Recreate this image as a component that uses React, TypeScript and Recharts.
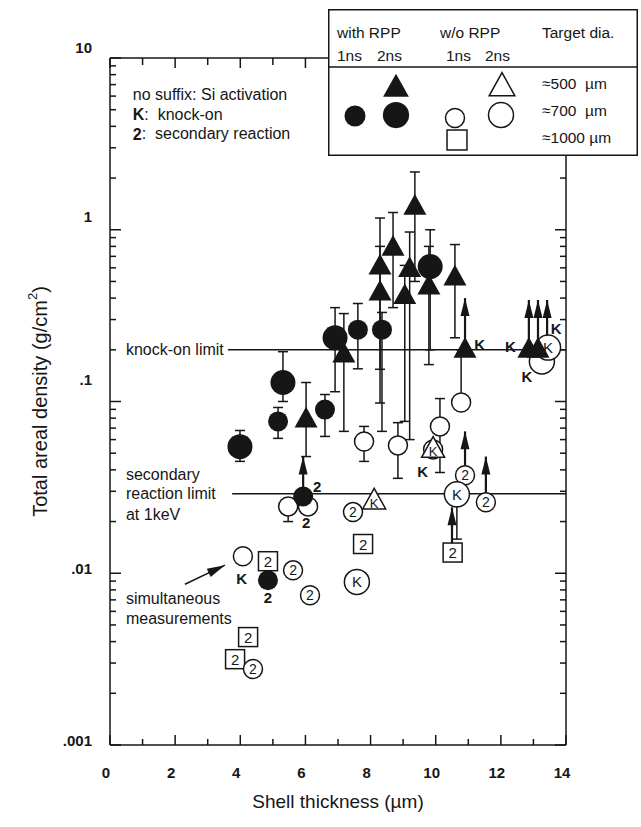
import React from 'react';
import { ComposedChart, Scatter, XAxis, YAxis, ErrorBar } from 'recharts';

const FONT = '"Liberation Sans", Arial, Helvetica, sans-serif';
const INK = '#161616';

// ---------- axes ----------
const xTickValues = [0, 1, 2, 3, 4, 5, 6, 7, 8, 9, 10, 11, 12, 13, 14];
const xTickLabels: Record<number, string> = { 0: '0', 2: '2', 4: '4', 6: '6', 8: '8', 10: '10', 12: '12', 14: '14' };
const yDecadeValues = [0.001, 0.01, 0.1, 1, 10];
const yDecadeLabels = ['.001', '.01', '.1', '1', '10'];
const yMinorSteps = [2, 3, 4, 5, 6, 7, 8, 9];
const yTickValues = [
  ...yDecadeValues,
  ...yDecadeValues.slice(0, 4).flatMap((d) => yMinorSteps.map((m) => Number((d * m).toPrecision(3)))),
].sort((a, b) => a - b);

// ---------- data (shell thickness um, areal density g/cm2) ----------
type P = { x: number; y: number; lo?: number; hi?: number; tag?: string };

// with RPP, 1 ns (small filled circle)
const withRpp1ns: P[] = [
  { x: 5.16, y: 0.0766, lo: 0.061, hi: 0.0923 },
  { x: 5.93, y: 0.028 },
  { x: 6.6, y: 0.0897, lo: 0.0626, hi: 0.1098 },
  { x: 7.61, y: 0.262, lo: 0.155, hi: 0.372 },
  { x: 8.35, y: 0.262, lo: 0.067, hi: 0.33 },
  { x: 4.85, y: 0.0091 },
];
// with RPP, 2 ns, 700 um (large filled circle)
const withRpp2nsCircle: P[] = [
  { x: 3.99, y: 0.0546, lo: 0.0448, hi: 0.0678 },
  { x: 5.31, y: 0.129, lo: 0.1, hi: 0.195 },
  { x: 6.91, y: 0.235, lo: 0.114, hi: 0.352 },
  { x: 9.83, y: 0.61, lo: 0.2, hi: 1.0 },
];
// with RPP, 2 ns, 500 um (filled triangle)
const withRpp2nsTri: P[] = [
  { x: 6.02, y: 0.0785, lo: 0.0478, hi: 0.129 },
  { x: 7.18, y: 0.1875, lo: 0.067, hi: 0.325 },
  { x: 8.29, y: 0.61, lo: 0.154, hi: 1.17 },
  { x: 8.29, y: 0.43, lo: 0.098, hi: 0.8 },
  { x: 8.69, y: 0.785, lo: 0.352, hi: 1.26 },
  { x: 9.36, y: 1.36, lo: 0.5, hi: 2.17 },
  { x: 9.2, y: 0.59, lo: 0.06, hi: 0.97 },
  { x: 9.05, y: 0.41, lo: 0.0766, hi: 0.62 },
  { x: 9.79, y: 0.467, lo: 0.164, hi: 0.8 },
  { x: 10.59, y: 0.526, lo: 0.235, hi: 0.82 },
  { x: 10.9, y: 0.2 },
  { x: 12.86, y: 0.2 },
  { x: 13.14, y: 0.2 },
];
// w/o RPP, 1 ns, 700 um (small open circle)
const woRpp1nsCircle: P[] = [
  { x: 7.8, y: 0.0585, lo: 0.0448, hi: 0.0716 },
  { x: 8.84, y: 0.0555, lo: 0.0357, hi: 0.0753 },
  { x: 10.13, y: 0.0716, lo: 0.0386, hi: 0.104 },
  { x: 10.78, y: 0.0986, lo: 0.0986, hi: 0.2 },
  { x: 5.47, y: 0.0245, lo: 0.02, hi: 0.0245 },
  { x: 6.08, y: 0.0245 },
  { x: 4.08, y: 0.01256 },
  { x: 9.92, y: 0.0526 },
  { x: 5.62, y: 0.0104, tag: '2' },
  { x: 6.14, y: 0.00745, tag: '2' },
  { x: 4.39, y: 0.00277, tag: '2' },
  { x: 7.46, y: 0.0227, tag: '2' },
  { x: 10.9, y: 0.0372, tag: '2' },
  { x: 11.54, y: 0.0259, tag: '2' },
];
// w/o RPP, 2 ns, 700 um (large open circle)
const woRpp2nsCircle: P[] = [
  { x: 10.65, y: 0.0288, lo: 0.0158, hi: 0.0288, tag: 'K' },
  { x: 7.58, y: 0.0089, tag: 'K' },
  { x: 13.26, y: 0.171 },
  { x: 13.45, y: 0.206, tag: 'K' },
];
// w/o RPP, 2 ns, 500 um (open triangle)
const woRpp2nsTri: P[] = [
  { x: 8.11, y: 0.0263, tag: 'K' },
  { x: 9.92, y: 0.0526, tag: 'K' },
];
// w/o RPP, 1 ns, 1000 um (open square)
const woRpp1nsSquare: P[] = [
  { x: 7.77, y: 0.0148, tag: '2' },
  { x: 10.52, y: 0.0132, tag: '2' },
  { x: 4.85, y: 0.01175, tag: '2' },
  { x: 4.24, y: 0.00425, tag: '2' },
  { x: 3.84, y: 0.00316, tag: '2' },
];
// lower limits (arrows)
const lowerLimits = [
  { x: 5.93, from: 0.028, to: 0.0478 },
  { x: 10.9, from: 0.2, to: 0.4 },
  { x: 12.86, from: 0.2, to: 0.39 },
  { x: 13.14, from: 0.2, to: 0.39 },
  { x: 13.42, from: 0.206, to: 0.39 },
  { x: 10.9, from: 0.0372, to: 0.067 },
  { x: 11.54, from: 0.0259, to: 0.0478 },
  { x: 10.5, from: 0.0132, to: 0.0242 },
];
// suffix labels next to markers
const suffixLabels = [
  { x: 6.36, y: 0.032, t: '2' },
  { x: 6.02, y: 0.0198, t: '2' },
  { x: 4.04, y: 0.00935, t: 'K' },
  { x: 4.85, y: 0.00724, t: '2' },
  { x: 11.35, y: 0.214, t: 'K' },
  { x: 12.29, y: 0.21, t: 'K' },
  { x: 12.8, y: 0.14, t: 'K' },
  { x: 13.7, y: 0.265, t: 'K' },
  { x: 9.6, y: 0.039, t: 'K' },
];
// limit lines
const knockOnLimit = [{ x: 3.62, y: 0.2 }, { x: 14, y: 0.2 }];
const secondaryLimit = [{ x: 3.75, y: 0.029 }, { x: 14, y: 0.029 }];
// annotations
const notes = [
  { x: 0.7, y: 6.1, b: '', t: 'no suffix: Si activation' },
  { x: 0.7, y: 4.72, b: 'K', t: ':  knock-on' },
  { x: 0.7, y: 3.61, b: '2', t: ':  secondary reaction' },
  { x: 0.49, y: 0.2, b: '', t: 'knock-on limit' },
  { x: 0.49, y: 0.0377, b: '', t: 'secondary' },
  { x: 0.49, y: 0.029, b: '', t: 'reaction limit' },
  { x: 0.49, y: 0.022, b: '', t: 'at 1keV' },
  { x: 0.49, y: 0.00716, b: '', t: 'simultaneous' },
  { x: 0.49, y: 0.00547, b: '', t: 'measurements' },
];
const simultaneousArrow = [
  { x: 2.3, y: 0.00863, head: false },
  { x: 3.53, y: 0.01114, head: true },
];

// ---------- helpers ----------
const withErr = (arr: P[]) =>
  arr.map((p) => ({ ...p, err: p.lo !== undefined && p.hi !== undefined ? [p.y - p.lo, p.hi - p.y] : [0, 0] }));
const arrowShafts = lowerLimits.map((a) => ({ x: a.x, y: a.from, err: [0, a.to - a.from] }));
const arrowHeads = lowerLimits.map((a) => ({ x: a.x, y: a.to }));

type Kind = 'fs' | 'fb' | 'ft' | 'os' | 'ob' | 'ot' | 'oq';

function triPoints(cx: number, cy: number, s: number) {
  const h = s * 0.9;
  return `${cx},${cy - h * 0.62} ${cx - s / 2},${cy + h * 0.38} ${cx + s / 2},${cy + h * 0.38}`;
}

function Marker({ kind, cx, cy, tag, scale = 1 }: { kind: Kind; cx: number; cy: number; tag?: string; scale?: number }) {
  if (cx == null || cy == null) return <g />;
  const txt = (fs: number, dy = 0) =>
    tag ? (
      <text x={cx} y={cy + dy} textAnchor="middle" dominantBaseline="central" fontFamily={FONT} fontSize={fs} fill={INK}>
        {tag}
      </text>
    ) : null;
  switch (kind) {
    case 'fs':
      return <circle cx={cx} cy={cy} r={10 * scale} fill={INK} />;
    case 'fb':
      return <circle cx={cx} cy={cy} r={12.5 * scale} fill={INK} />;
    case 'ft':
      return <polygon points={triPoints(cx, cy, 23 * scale)} fill={INK} />;
    case 'os':
      return (
        <g>
          <circle cx={cx} cy={cy} r={9.5 * scale} fill="#fff" stroke={INK} strokeWidth={1.5} />
          {txt(14)}
        </g>
      );
    case 'ob':
      return (
        <g>
          <circle cx={cx} cy={cy} r={12.5 * scale} fill="#fff" stroke={INK} strokeWidth={1.5} />
          {txt(15)}
        </g>
      );
    case 'ot':
      return (
        <g>
          <polygon points={triPoints(cx, cy, 23 * scale)} fill="#fff" stroke={INK} strokeWidth={1.5} />
          {txt(13, 2)}
        </g>
      );
    case 'oq': {
      const s = 19 * scale;
      return (
        <g>
          <rect x={cx - s / 2} y={cy - s / 2} width={s} height={s} fill="#fff" stroke={INK} strokeWidth={1.5} />
          {txt(15)}
        </g>
      );
    }
  }
  return <g />;
}

const shapeOf = (kind: Kind) => (p: any) => <Marker kind={kind} cx={p.cx} cy={p.cy} tag={p.payload?.tag} />;
const Nothing = () => <g />;

const BottomTick = (p: any) => {
  const v = p.payload.value;
  const major = v % 2 === 0;
  return (
    <g>
      <line x1={p.x} x2={p.x} y1={p.y} y2={p.y - (major ? 10 : 6)} stroke={INK} strokeWidth={1.5} />
      {major && (
        <text x={p.x - 4} y={p.y + 27} textAnchor="middle" dominantBaseline="central" fontFamily={FONT} fontSize={15} fontWeight="bold" fill={INK}>
          {xTickLabels[v]}
        </text>
      )}
    </g>
  );
};
const TopTick = (p: any) => {
  const v = p.payload.value;
  const major = v % 2 === 0;
  return <line x1={p.x} x2={p.x} y1={p.y} y2={p.y + (major ? 10 : 7)} stroke={INK} strokeWidth={1.5} />;
};
const decadeIndex = (v: number) => yDecadeValues.findIndex((d) => Math.abs(d - v) / d < 1e-6);
const yLabelShift = [-5, -5, -22, -13, -11];
const LeftTick = (p: any) => {
  const v = p.payload.value;
  const i = decadeIndex(v);
  const major = i >= 0;
  return (
    <g>
      <line x1={p.x} x2={p.x + (major ? 11 : 6)} y1={p.y} y2={p.y} stroke={INK} strokeWidth={1.5} />
      {major && (
        <text x={p.x - 18} y={p.y + yLabelShift[i]} textAnchor="end" dominantBaseline="central" fontFamily={FONT} fontSize={15} fontWeight="bold" fill={INK}>
          {yDecadeLabels[i]}
        </text>
      )}
    </g>
  );
};
const RightTick = (p: any) => {
  const v = p.payload.value;
  const major = decadeIndex(v) >= 0;
  return <line x1={p.x} x2={p.x - (major ? 11 : 6)} y1={p.y} y2={p.y} stroke={INK} strokeWidth={1.5} />;
};

const XTitle = (props: any) => {
  const vb = props.viewBox;
  return (
    <text x={vb.x + vb.width / 2} y={vb.y + 56} textAnchor="middle" dominantBaseline="central" fontFamily={FONT} fontSize={19} fill={INK}>
      Shell thickness (µm)
    </text>
  );
};
const YTitle = (props: any) => {
  const vb = props.viewBox;
  const cx = vb.x + 40;
  const cy = vb.y + vb.height / 2;
  return (
    <text x={cx} y={cy} transform={`rotate(-90 ${cx} ${cy})`} textAnchor="middle" dominantBaseline="central" fontFamily={FONT} fontSize={20} fill={INK}>
      Total areal density (g/cm<tspan dy={-8} fontSize={13}>2</tspan>
      <tspan dy={8}>)</tspan>
    </text>
  );
};

const NoteShape = (p: any) => (
  <text x={p.cx} y={p.cy} dominantBaseline="central" fontFamily={FONT} fontSize={16} fill={INK} style={{ whiteSpace: 'pre' }}>
    {p.payload.b ? <tspan fontWeight="bold">{p.payload.b}</tspan> : null}
    {p.payload.t}
  </text>
);
const SuffixShape = (p: any) => (
  <text x={p.cx} y={p.cy} textAnchor="middle" dominantBaseline="central" fontFamily={FONT} fontSize={15} fontWeight="bold" fill={INK}>
    {p.payload.t}
  </text>
);
const ArrowHead = (p: any) => (
  <polygon points={`${p.cx},${p.cy} ${p.cx - 4.5},${p.cy + 18} ${p.cx + 4.5},${p.cy + 18}`} fill={INK} />
);
const SlantHead = (p: any) =>
  p.payload.head ? (
    <polygon transform={`translate(${p.cx},${p.cy}) rotate(-25.4)`} points="0,0 -18,-4.5 -18,4.5" fill={INK} />
  ) : (
    <g />
  );

function Legend() {
  const t = (x: number, y: number, s: string) => (
    <text x={x} y={y} dominantBaseline="central" fontFamily={FONT} fontSize={15.5} fill={INK} style={{ whiteSpace: 'pre' }}>
      {s}
    </text>
  );
  return (
    <div style={{ position: 'absolute', left: 328, top: 9, width: 310, height: 147, background: '#fff' }}>
      <svg width={310} height={147}>
        <rect x={0.75} y={0.75} width={308.5} height={145.5} fill="#fff" stroke={INK} strokeWidth={1.5} />
        <line x1={0} x2={310} y1={58} y2={58} stroke={INK} strokeWidth={1.5} />
        {t(9, 23, 'with RPP')}
        {t(9, 46, '1ns')}
        {t(49, 46, '2ns')}
        {t(112, 23, 'w/o RPP')}
        {t(118, 46, '1ns')}
        {t(157, 46, '2ns')}
        {t(214, 23, 'Target dia.')}
        {t(214, 74, '≈500  µm')}
        {t(214, 101, '≈700  µm')}
        {t(214, 128, '≈1000 µm')}
        <Marker kind="ft" cx={68} cy={79} scale={1.12} />
        <Marker kind="fs" cx={27} cy={107} scale={1.05} />
        <Marker kind="fb" cx={68} cy={106} scale={1.05} />
        <Marker kind="os" cx={127} cy={109} />
        <Marker kind="ob" cx={173} cy={106} />
        <Marker kind="ot" cx={174} cy={78} scale={1.12} />
        <Marker kind="oq" cx={129} cy={131} scale={1.05} />
      </svg>
    </div>
  );
}

export default function App() {
  const axisLine = { stroke: INK, strokeWidth: 1.5 };
  return (
    <div style={{ position: 'absolute', left: 0, top: 0, width: 641, height: 827, background: '#fff' }}>
      <ComposedChart width={641} height={827} margin={{ top: 0, right: 0, bottom: 0, left: 0 }}>
        <XAxis xAxisId="b" dataKey="x" type="number" domain={[0, 14]} allowDataOverflow ticks={xTickValues} interval={0}
          tickSize={0} tickMargin={0} tickLine={false} axisLine={axisLine} height={82} tick={<BottomTick />} label={XTitle} />
        <XAxis xAxisId="t" orientation="top" dataKey="x" type="number" domain={[0, 14]} allowDataOverflow ticks={xTickValues} interval={0}
          tickSize={0} tickMargin={0} tickLine={false} axisLine={axisLine} height={58} tick={<TopTick />} />
        <YAxis yAxisId="l" dataKey="y" type="number" scale="log" domain={[0.001, 10]} allowDataOverflow ticks={yTickValues} interval={0}
          tickSize={0} tickMargin={0} tickLine={false} axisLine={axisLine} width={110} tick={<LeftTick />} label={YTitle} />
        <YAxis yAxisId="r" orientation="right" dataKey="y" type="number" scale="log" domain={[0.001, 10]} allowDataOverflow ticks={yTickValues} interval={0}
          tickSize={0} tickMargin={0} tickLine={false} axisLine={axisLine} width={75} tick={<RightTick />} />

        <Scatter xAxisId="b" yAxisId="l" data={knockOnLimit} line={{ stroke: INK, strokeWidth: 1.5 }} shape={Nothing} isAnimationActive={false} />
        <Scatter xAxisId="b" yAxisId="l" data={secondaryLimit} line={{ stroke: INK, strokeWidth: 1.5 }} shape={Nothing} isAnimationActive={false} />
        <Scatter xAxisId="b" yAxisId="l" data={simultaneousArrow} line={{ stroke: INK, strokeWidth: 1.5 }} shape={SlantHead} isAnimationActive={false} />
        <Scatter xAxisId="b" yAxisId="l" data={notes} shape={NoteShape} isAnimationActive={false} />

        <Scatter xAxisId="b" yAxisId="l" data={arrowShafts} shape={Nothing} isAnimationActive={false}>
          <ErrorBar dataKey="err" direction="y" width={0} stroke={INK} strokeWidth={2.2} />
        </Scatter>
        <Scatter xAxisId="b" yAxisId="l" data={arrowHeads} shape={ArrowHead} isAnimationActive={false} />

        <Scatter xAxisId="b" yAxisId="l" data={withErr(woRpp1nsSquare)} shape={shapeOf('oq')} isAnimationActive={false} />
        <Scatter xAxisId="b" yAxisId="l" data={withErr(woRpp1nsCircle)} shape={shapeOf('os')} isAnimationActive={false}>
          <ErrorBar dataKey="err" direction="y" width={5} stroke={INK} strokeWidth={1.5} />
        </Scatter>
        <Scatter xAxisId="b" yAxisId="l" data={withErr(woRpp2nsCircle)} shape={shapeOf('ob')} isAnimationActive={false}>
          <ErrorBar dataKey="err" direction="y" width={5} stroke={INK} strokeWidth={1.5} />
        </Scatter>
        <Scatter xAxisId="b" yAxisId="l" data={withErr(woRpp2nsTri)} shape={shapeOf('ot')} isAnimationActive={false} />

        <Scatter xAxisId="b" yAxisId="l" data={withErr(withRpp2nsTri)} shape={shapeOf('ft')} isAnimationActive={false}>
          <ErrorBar dataKey="err" direction="y" width={5} stroke={INK} strokeWidth={1.5} />
        </Scatter>
        <Scatter xAxisId="b" yAxisId="l" data={withErr(withRpp1ns)} shape={shapeOf('fs')} isAnimationActive={false}>
          <ErrorBar dataKey="err" direction="y" width={5} stroke={INK} strokeWidth={1.5} />
        </Scatter>
        <Scatter xAxisId="b" yAxisId="l" data={withErr(withRpp2nsCircle)} shape={shapeOf('fb')} isAnimationActive={false}>
          <ErrorBar dataKey="err" direction="y" width={5} stroke={INK} strokeWidth={1.5} />
        </Scatter>

        <Scatter xAxisId="b" yAxisId="l" data={suffixLabels} shape={SuffixShape} isAnimationActive={false} />
      </ComposedChart>
      <Legend />
    </div>
  );
}
